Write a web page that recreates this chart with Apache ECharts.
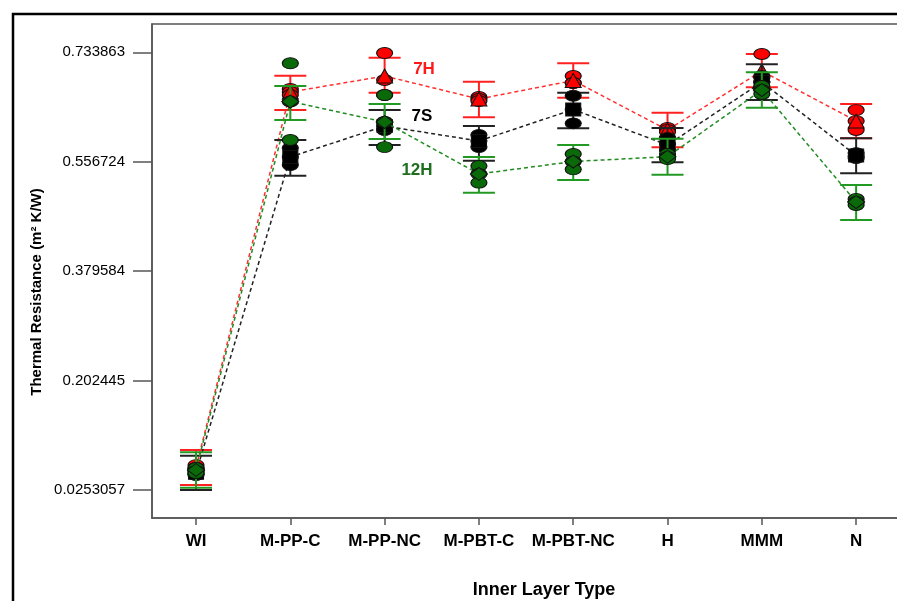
<!DOCTYPE html>
<html>
<head>
<meta charset="utf-8">
<script src="https://cdn.jsdelivr.net/npm/echarts@6/dist/echarts.min.js"></script>
<style>
html,body{margin:0;padding:0;background:#fff;}
#chart{width:897px;height:601px;}
</style>
</head>
<body>
<div id="chart"></div>
<script>
const categories = ['WI','M-PP-C','M-PP-NC','M-PBT-C','M-PBT-NC','H','MMM','N'];
const yTickValues = [0.0253057,0.202445,0.379584,0.556724,0.733863];
const yTickLabels = ['0.0253057','0.202445','0.379584','0.556724','0.733863'];

const mean7H  = [0.0617,0.6696,0.6955,0.6583,0.6882,0.6081,0.7036,0.6227];
const upper7H = [0.0900,0.6960,0.7251,0.6863,0.7161,0.6361,0.7311,0.6502];
const lower7H = [0.0334,0.6405,0.6685,0.6286,0.6604,0.5801,0.6772,0.5946];
const points7H = [[0.0657,0.0609,0.0577],[0.6745,0.6696,0.6647],[0.7327,0.6890,0.6647],[0.6615,0.6583,0.6550],[0.6955,0.6842,0.6842],[0.6113,0.6081,0.6048],[0.7311,0.6939,0.6858],[0.6404,0.6226,0.6081]];

const mean7S  = [0.0531,0.5644,0.6145,0.5903,0.6413,0.5838,0.6858,0.5668];
const upper7S = [0.0808,0.5919,0.6405,0.6145,0.6685,0.6113,0.7144,0.5946];
const lower7S = [0.0253,0.5341,0.5838,0.5584,0.6108,0.5558,0.6566,0.5380];
const points7S = [[0.0577,0.0528,0.0496],[0.5789,0.5644,0.5514],[0.6210,0.6145,0.6081],[0.6000,0.5903,0.5805],[0.6636,0.6413,0.6189],[0.5951,0.5854,0.5757],[0.6955,0.6858,0.6761],[0.5708,0.5660,0.5627]];

const mean12H  = [0.0577,0.6542,0.6210,0.5369,0.5571,0.5649,0.6728,0.4915];
const upper12H = [0.0863,0.6793,0.6502,0.5644,0.5838,0.5940,0.7015,0.5190];
const lower12H = [0.0290,0.6243,0.5935,0.5066,0.5271,0.5357,0.6442,0.4624];
const points12H = [[0.0609,0.0560,0.0528],[0.7161,0.6542,0.5919],[0.6647,0.6210,0.5805],[0.5498,0.5369,0.5228],[0.5692,0.5571,0.5445],[0.5692,0.5644,0.5611],[0.6793,0.6728,0.6664],[0.4964,0.4915,0.4867]];

const groups = [
  {name:'7H', mean:mean7H, lo:lower7H, hi:upper7H, pts:points7H, line:'#ff3030', bar:'#ff2020', fill:'#ff0000', sym:'triangle', symSize:[16,14], z:3},
  {name:'7S', mean:mean7S, lo:lower7S, hi:upper7S, pts:points7S, line:'#222222', bar:'#222222', fill:'#000000', sym:'rect', symSize:[15,13], z:4},
  {name:'12H', mean:mean12H, lo:lower12H, hi:upper12H, pts:points12H, line:'#228b22', bar:'#229922', fill:'#0a6a0a', sym:'diamond', symSize:[17,13], z:5}
];

const FONT = '"Liberation Sans", Arial, sans-serif';
const chart = echarts.init(document.getElementById('chart'), null, {renderer:'canvas'});
const series = [];
groups.forEach(g => {
  const xs = categories.map((c,i)=>i+1);
  series.push({
    type:'line', name:g.name+'-line', z:g.z,
    data: xs.map((x,i)=>[x,g.mean[i]]),
    symbol:'none', silent:true,
    lineStyle:{color:g.line, width:1.5, type:[4,3]}
  });
  series.push({
    type:'custom', name:g.name+'-err', z:g.z,
    data: xs.map((x,i)=>[x,g.lo[i],g.hi[i]]),
    renderItem: function(params, api){
      const x = api.value(0);
      const a = api.coord([x, api.value(2)]);
      const b = api.coord([x, api.value(1)]);
      const hw = 16;
      const st = {stroke:g.bar, lineWidth:2};
      return {type:'group', children:[
        {type:'line', shape:{x1:a[0],y1:a[1],x2:b[0],y2:b[1]}, style:st},
        {type:'line', shape:{x1:a[0]-hw,y1:a[1],x2:a[0]+hw,y2:a[1]}, style:st},
        {type:'line', shape:{x1:b[0]-hw,y1:b[1],x2:b[0]+hw,y2:b[1]}, style:st}
      ]};
    },
    silent:true
  });
  const pdata = [];
  g.pts.forEach((arr,i)=>arr.forEach(v=>pdata.push([i+1,v])));
  series.push({
    type:'scatter', name:g.name+'-pts', z:g.z,
    data:pdata, symbol:'circle', symbolSize:[16,11],
    itemStyle:{color:g.fill, borderColor:'#111', borderWidth:1, opacity:1},
    silent:true
  });
  series.push({
    type:'scatter', name:g.name+'-mean', z:g.z,
    data: xs.map((x,i)=>[x,g.mean[i]]), symbol:g.sym, symbolSize:g.symSize,
    itemStyle:{color:g.fill, borderColor:'#111', borderWidth:1, opacity:1},
    silent:true
  });
});

const option = {
  animation:false,
  backgroundColor:'#ffffff',
  grid:{left:152, top:24, width:756, height:494, show:true, borderColor:'#555', borderWidth:1.5, backgroundColor:'transparent', containLabel:false, outerBoundsMode:'none'},
  xAxis:{
    type:'value', min:0.5333, max:8.55,
    axisLine:{show:true, onZero:false, lineStyle:{color:'#555', width:1.5}},
    axisTick:{show:true, length:7, inside:false, customValues:[1,2,3,4,5,6,7,8], lineStyle:{color:'#555', width:1.5}},
    axisLabel:{customValues:[1,2,3,4,5,6,7,8], formatter:v=>categories[Math.round(v)-1]||'', fontFamily:FONT, fontWeight:'bold', fontSize:17, color:'#000', margin:15},
    splitLine:{show:false}
  },
  yAxis:{
    type:'value', min:-0.0200, max:0.7797,
    axisLine:{show:true, onZero:false, lineStyle:{color:'#555', width:1.5}},
    axisTick:{show:true, length:19, inside:false, customValues:yTickValues, lineStyle:{color:'#555', width:1.5}},
    axisLabel:{customValues:yTickValues, formatter:v=>{
      let best=0; yTickValues.forEach((t,i)=>{ if(Math.abs(t-v)<Math.abs(yTickValues[best]-v)) best=i; });
      return yTickLabels[best];
    }, fontFamily:FONT, fontSize:15, color:'#000', margin:27},
    splitLine:{show:false}
  },
  graphic:[
    {type:'rect', shape:{x:13,y:14,width:920,height:620}, style:{fill:'none', stroke:'#000', lineWidth:2.5}, silent:true},
    {type:'text', x:544, y:590, style:{text:'Inner Layer Type', fill:'#000', font:'bold 18px '+FONT, textAlign:'center', textVerticalAlign:'middle'}},
    {type:'text', x:37, y:292, rotation:Math.PI/2, style:{text:'Thermal Resistance (m² K/W)', fill:'#000', font:'bold 15px '+FONT, textAlign:'center', textVerticalAlign:'middle'}},
    {type:'text', x:424, y:69, style:{text:'7H', fill:'#ff1a1a', font:'bold 17px '+FONT, textAlign:'center', textVerticalAlign:'middle'}},
    {type:'text', x:422, y:116, style:{text:'7S', fill:'#000', font:'bold 17px '+FONT, textAlign:'center', textVerticalAlign:'middle'}},
    {type:'text', x:417, y:170, style:{text:'12H', fill:'#1e6e1e', font:'bold 17px '+FONT, textAlign:'center', textVerticalAlign:'middle'}}
  ],
  series:series
};
chart.setOption(option);
</script>
</body>
</html>
